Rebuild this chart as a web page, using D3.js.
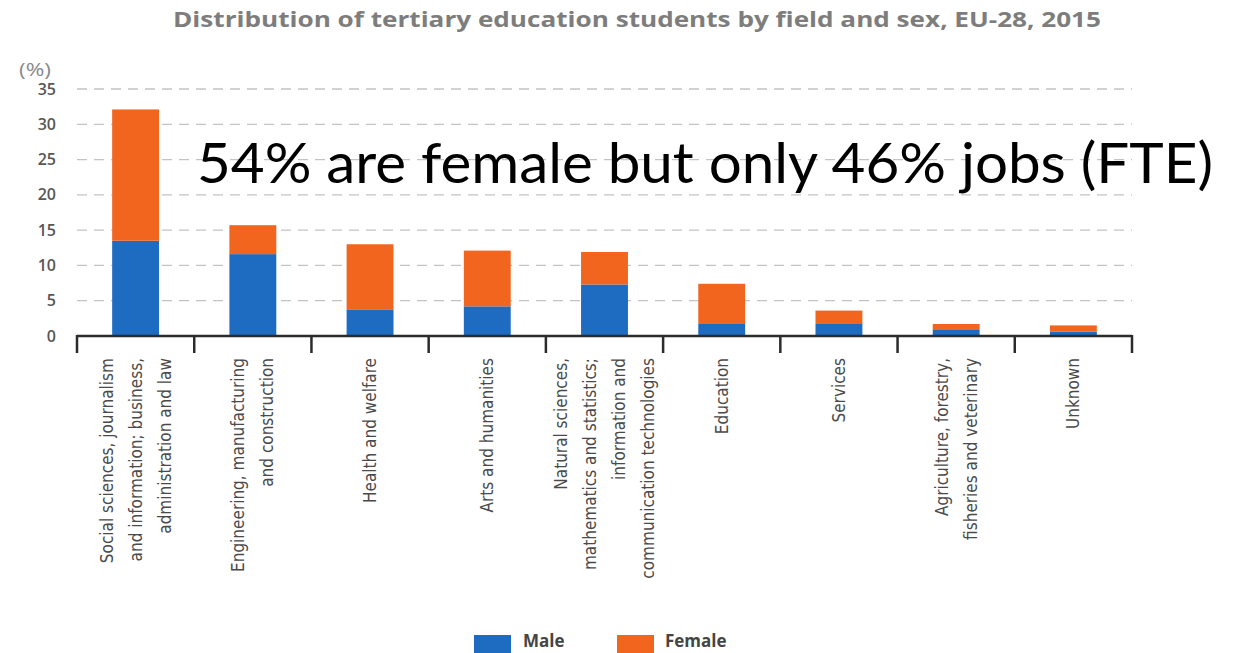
<!DOCTYPE html>
<html>
<head>
<meta charset="utf-8">
<script src="https://cdn.jsdelivr.net/npm/d3@7"></script>
<style>
  html, body { margin: 0; padding: 0; background: #fff; }
  svg { display: block; }
</style>
</head>
<body>
<svg id="chart" width="1236" height="653"></svg>
<script>
// Fields of study (label lines are split with "|")
const categories = [
  "Social sciences, journalism|and information; business,|administration and law",
  "Engineering, manufacturing|and construction",
  "Health and welfare",
  "Arts and humanities",
  "Natural sciences,|mathematics and statistics;|information and|communication technologies",
  "Education",
  "Services",
  "Agriculture, forestry,|fisheries and veterinary",
  "Unknown"
];
// Share of all tertiary students (%), by sex
const maleValues   = [13.5, 11.6, 3.7, 4.2, 7.3, 1.7, 1.7, 0.85, 0.6];
const femaleValues = [18.6, 4.1, 9.3, 7.9, 4.6, 5.7, 1.9, 0.85, 0.9];
const yTicks = [0, 5, 10, 15, 20, 25, 30, 35];
const seriesNames = ["Male", "Female"];
const seriesColors = ["#1d6cc1", "#f1651f"];

const titleText = "Distribution of tertiary education students by field and sex, EU-28, 2015";
const annotationText = "54% are female but only 46% jobs (FTE)";

const svg = d3.select("#chart");

const plotLeft = 77, plotRight = 1132;

const x = d3.scaleBand()
  .domain(categories)
  .range([plotLeft, plotRight])
  .paddingInner(0.6)
  .paddingOuter(0.3);

const y = d3.scaleLinear().domain([0, 35]).range([336, 89]);

const rows = categories.map((c, i) => ({ cat: c, Male: maleValues[i], Female: femaleValues[i] }));
const stacked = d3.stack().keys(seriesNames)(rows);

// Title
svg.append("text")
  .attr("x", 173).attr("y", 27)
  .attr("textLength", 928).attr("lengthAdjust", "spacingAndGlyphs")
  .style("font-family", "'Open Sans', 'DejaVu Sans', sans-serif")
  .style("font-weight", "700").style("font-size", "21px")
  .style("fill", "#7d7d7d")
  .text(titleText);

// Unit label
svg.append("text")
  .attr("x", 19).attr("y", 76)
  .attr("textLength", 32).attr("lengthAdjust", "spacingAndGlyphs")
  .style("font-family", "'Open Sans', 'DejaVu Sans', sans-serif")
  .style("font-size", "18px").style("fill", "#8a8a8a")
  .text("(%)");

// Dashed gridlines
svg.append("g").selectAll("line")
  .data(yTicks.filter(t => t > 0))
  .join("line")
  .attr("x1", plotLeft).attr("x2", plotRight)
  .attr("y1", d => y(d)).attr("y2", d => y(d))
  .attr("stroke", "#c4c4c4").attr("stroke-width", 1.3)
  .attr("stroke-dasharray", "10,7");

// Y axis labels
const yAxis = d3.axisLeft(y).tickValues(yTicks).tickSize(0).tickPadding(0);
const yg = svg.append("g").attr("transform", "translate(56,0)").call(yAxis);
yg.select(".domain").remove();
yg.selectAll("text")
  .style("font-family", "'Open Sans', 'DejaVu Sans', sans-serif")
  .style("font-size", "16px").style("font-weight", "600")
  .style("fill", "#575757");

// Stacked bars
svg.append("g").selectAll("g")
  .data(stacked)
  .join("g")
  .attr("fill", (d, i) => seriesColors[i])
  .selectAll("rect")
  .data(d => d)
  .join("rect")
  .attr("x", d => x(d.data.cat))
  .attr("width", x.bandwidth())
  .attr("y", d => y(d[1]))
  .attr("height", d => y(d[0]) - y(d[1]));

// X axis line with ticks between categories
const edges = [plotLeft].concat(categories.map(c => x(c) + x.bandwidth() / 2 + x.step() / 2));
svg.append("line")
  .attr("x1", plotLeft).attr("x2", plotRight)
  .attr("y1", y(0)).attr("y2", y(0))
  .attr("stroke", "#2b2b2b").attr("stroke-width", 2.5);
svg.append("g").selectAll("line")
  .data(edges)
  .join("line")
  .attr("x1", d => d).attr("x2", d => d)
  .attr("y1", y(0) - 1).attr("y2", y(0) + 17)
  .attr("stroke", "#2b2b2b").attr("stroke-width", 2.5);

// Rotated category labels
const lineGap = 29;
const labels = svg.append("g").selectAll("text")
  .data(categories)
  .join("text")
  .attr("transform", d => {
    const n = d.split("|").length;
    const cx = x(d) + x.bandwidth() / 2;
    return `translate(${cx - (n - 1) * lineGap / 2 + 6},358) rotate(-90)`;
  })
  .attr("text-anchor", "end")
  .style("font-family", "'Liberation Sans Narrow', 'DejaVu Sans Condensed', 'Open Sans', sans-serif")
  .style("font-size", "17px")
  .style("fill", "#4a4a4a");
labels.selectAll("tspan")
  .data(d => d.split("|"))
  .join("tspan")
  .attr("x", 0)
  .attr("y", (d, i) => i * lineGap)
  .text(d => d);

// Legend
const legendX = [474, 617];
const legendTextX = [523, 665];
const lg = svg.append("g");
seriesNames.forEach((s, i) => {
  lg.append("rect")
    .attr("x", legendX[i]).attr("y", 635)
    .attr("width", 37).attr("height", 20)
    .attr("fill", seriesColors[i]);
  lg.append("text")
    .attr("x", legendTextX[i]).attr("y", 647)
    .style("font-family", "'Open Sans', 'DejaVu Sans', sans-serif")
    .style("font-weight", "700").style("font-size", "17px")
    .style("fill", "#454545")
    .text(s);
});

// Overlaid annotation
svg.append("text")
  .attr("x", 197).attr("y", 183)
  .attr("textLength", 1016).attr("lengthAdjust", "spacingAndGlyphs")
  .style("font-family", "Lato, 'Open Sans', sans-serif")
  .style("font-size", "57px")
  .style("fill", "#000")
  .text(annotationText);
</script>
</body>
</html>
